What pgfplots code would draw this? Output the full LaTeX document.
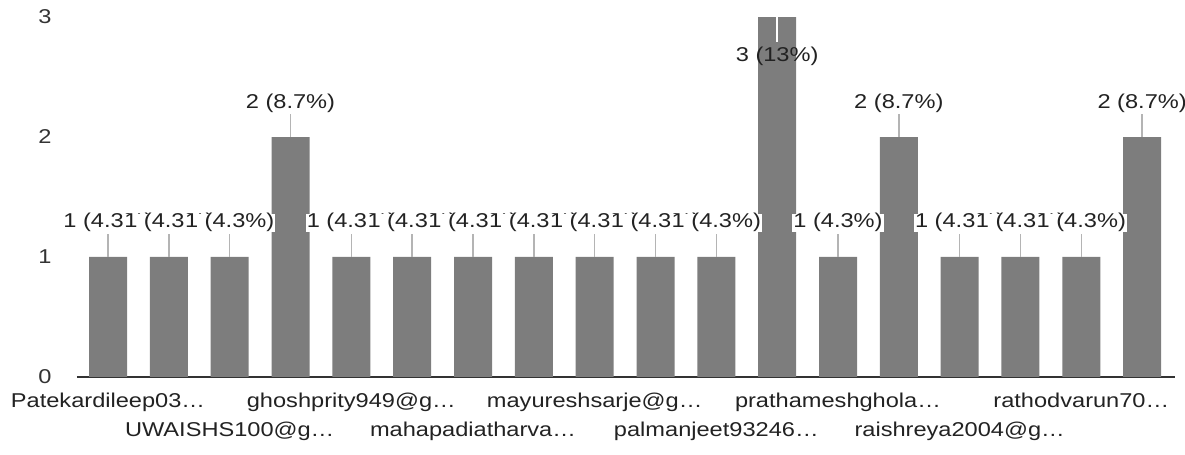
\documentclass[border=0pt]{standalone}
\usepackage{pgfplots}
\pgfplotsset{compat=1.18}
\usepackage{fontspec}
\setmainfont{Liberation Sans}
\usepackage{graphicx}
\definecolor{barc}{RGB}{125,125,125}
\definecolor{leader}{RGB}{180,180,180}
\definecolor{txt}{RGB}{34,34,34}
\definecolor{axisc}{RGB}{51,51,51}
\newcommand\w[1]{\scalebox{1.18}[1]{#1}}

\begin{document}
\begin{tikzpicture}[font=\fontsize{10pt}{12pt}\selectfont]
\begin{axis}[
  at={(38.5pt,39pt)}, anchor=south west,
  scale only axis, width=549pt, height=180pt,
  xmin=-0.51, xmax=17.54, ymin=0, ymax=3,
  clip=false,
  axis x line*=bottom, axis y line*=left,
  x axis line style={draw=axisc, line width=1pt, -},
  y axis line style={draw=none, -},
  major tick length=0pt,
  ytick={0,1,2,3}, yticklabels={\w{0},\w{1},\w{2},\w{3}},
  yticklabel style={anchor=east, inner sep=0pt, xshift=-12.5pt, text=axisc},
  xtick={0,4,8,12,16},
  xticklabels={\w{Patekardileep03…},\w{ghoshprity949@g…},\w{mayureshsarje@g…},\w{prathameshghola…},\w{rathodvarun70…}},
  xticklabel style={anchor=base, inner sep=0pt, yshift=-15.5pt, text=txt},
  extra x ticks={2,6,10,14},
  extra x tick labels={\w{UWAISHS100@g…},\w{mahapadiatharva…},\w{palmanjeet93246…},\w{raishreya2004@g…}},
  extra x tick style={xticklabel style={yshift=-14.5pt}},
]
% bars
\addplot[ybar, bar width=19pt, fill=barc, draw=none] coordinates {
(0,1)(1,1)(2,1)(3,2)(4,1)(5,1)(6,1)(7,1)(8,1)(9,1)(10,1)(11,3)(12,1)(13,2)(14,1)(15,1)(16,1)(17,2)};
% leader lines
\addplot[draw=none, mark=none, forget plot,
  error bars/.cd, y dir=plus, y explicit, error mark=none,
  error bar style={draw=leader, line width=0.8pt}] coordinates {
(0,1) +- (0,0.19) (1,1) +- (0,0.19) (2,1) +- (0,0.19) (3,2) +- (0,0.19)
(4,1) +- (0,0.19) (5,1) +- (0,0.19) (6,1) +- (0,0.19) (7,1) +- (0,0.19)
(8,1) +- (0,0.19) (9,1) +- (0,0.19) (10,1) +- (0,0.19) (12,1) +- (0,0.19)
(13,2) +- (0,0.19) (14,1) +- (0,0.19) (15,1) +- (0,0.19) (16,1) +- (0,0.19)
(17,2) +- (0,0.19)};
\addplot[draw=none, mark=none, forget plot,
  error bars/.cd, y dir=minus, y explicit, error mark=none,
  error bar style={draw=white, line width=0.8pt}] coordinates {
(11,3) +- (0,0.21)};
% value labels
\addplot[draw=none, mark=none, forget plot, point meta=explicit symbolic,
  nodes near coords={\w{\pgfplotspointmeta}},
  nodes near coords style={anchor=base, yshift=14.5pt, fill=white, inner sep=0pt, inner xsep=0.5pt, text=txt}] coordinates {
(0,1) [1 (4.3\%)] (1,1) [1 (4.3\%)] (2,1) [1 (4.3\%)] (3,2) [2 (8.7\%)]
(4,1) [1 (4.3\%)] (5,1) [1 (4.3\%)] (6,1) [1 (4.3\%)] (7,1) [1 (4.3\%)]
(8,1) [1 (4.3\%)] (9,1) [1 (4.3\%)] (10,1) [1 (4.3\%)] (12,1) [1 (4.3\%)]
(13,2) [2 (8.7\%)] (14,1) [1 (4.3\%)] (15,1) [1 (4.3\%)] (16,1) [1 (4.3\%)]
(17,2) [2 (8.7\%)]};
\addplot[draw=none, mark=none, forget plot, point meta=explicit symbolic,
  nodes near coords={\w{\pgfplotspointmeta}},
  nodes near coords style={anchor=base, yshift=-22pt, inner sep=0pt, text=txt}] coordinates {
(11,3) [3 (13\%)]};
\end{axis}
\pgfresetboundingbox
\useasboundingbox (0,0) rectangle (592.5pt,227.5pt);
\end{tikzpicture}
\end{document}
